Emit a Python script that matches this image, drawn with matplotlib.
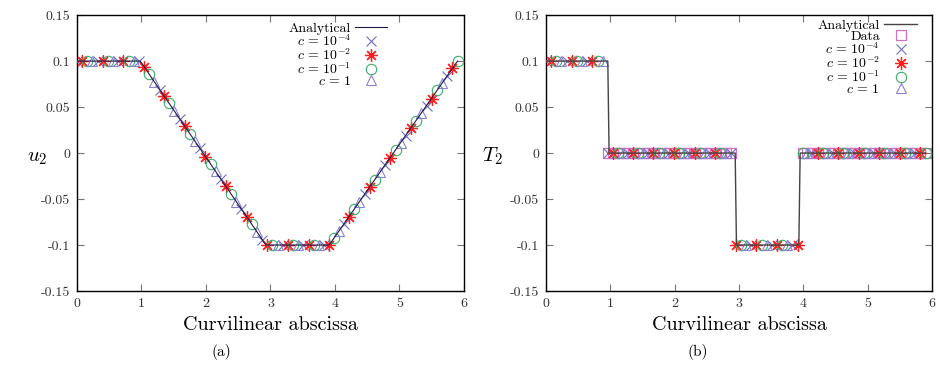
import numpy as np
import matplotlib
matplotlib.use("Agg")
import matplotlib.pyplot as plt
from matplotlib.ticker import MultipleLocator, FuncFormatter

plt.rcParams['font.family'] = 'cmr10'
plt.rcParams['mathtext.fontset'] = 'cm'
plt.rcParams['axes.unicode_minus'] = False

# nodes along the curvilinear abscissa
s_nodes = [0.00, 0.08, 0.16, 0.24, 0.32, 0.40, 0.48, 0.56, 0.64, 0.72,
           0.80, 0.88, 0.96, 1.04, 1.12, 1.20, 1.28, 1.35, 1.43, 1.51,
           1.59, 1.67, 1.75, 1.83, 1.91, 1.99, 2.07, 2.15, 2.23, 2.31,
           2.39, 2.47, 2.55, 2.63, 2.71, 2.79, 2.87, 2.95, 3.03, 3.11,
           3.19, 3.27, 3.35, 3.43, 3.51, 3.59, 3.67, 3.75, 3.83, 3.91,
           3.99, 4.06, 4.14, 4.22, 4.30, 4.38, 4.46, 4.54, 4.62, 4.70,
           4.78, 4.86, 4.94, 5.02, 5.10, 5.18, 5.26, 5.34, 5.42, 5.50,
           5.58, 5.66, 5.74, 5.82, 5.90]

# (a) displacement u2 at nodes
u2_nodes = [0.100, 0.100, 0.100, 0.100, 0.100, 0.100, 0.100, 0.100, 0.100, 0.100,
            0.100, 0.100, 0.100, 0.094, 0.086, 0.077, 0.069, 0.062, 0.054, 0.046,
            0.037, 0.029, 0.021, 0.013, 0.005, -0.004, -0.012, -0.020, -0.028, -0.036,
            -0.045, -0.053, -0.061, -0.069, -0.077, -0.086, -0.094, -0.100, -0.100, -0.100,
            -0.100, -0.100, -0.100, -0.100, -0.100, -0.100, -0.100, -0.100, -0.100, -0.100,
            -0.092, -0.085, -0.077, -0.069, -0.061, -0.053, -0.045, -0.037, -0.029, -0.021,
            -0.013, -0.005, 0.003, 0.011, 0.019, 0.027, 0.035, 0.043, 0.051, 0.059,
            0.068, 0.076, 0.084, 0.092, 0.100]

# (b) T2 at nodes
t2_nodes = [0.1, 0.1, 0.1, 0.1, 0.1, 0.1, 0.1, 0.1, 0.1, 0.1,
            0.1, 0.1, 0.0, 0.0, 0.0, 0.0, 0.0, 0.0, 0.0, 0.0,
            0.0, 0.0, 0.0, 0.0, 0.0, 0.0, 0.0, 0.0, 0.0, 0.0,
            0.0, 0.0, 0.0, 0.0, 0.0, 0.0, 0.0, -0.1, -0.1, -0.1,
            -0.1, -0.1, -0.1, -0.1, -0.1, -0.1, -0.1, -0.1, -0.1, -0.1,
            0.0, 0.0, 0.0, 0.0, 0.0, 0.0, 0.0, 0.0, 0.0, 0.0,
            0.0, 0.0, 0.0, 0.0, 0.0, 0.0, 0.0, 0.0, 0.0, 0.0,
            0.0, 0.0, 0.0, 0.0, 0.0]

# analytical solutions
s_ana_u = [0.0, 0.98, 2.93, 3.91, 5.90]
u_ana = [0.1, 0.1, -0.1, -0.1, 0.1]
s_ana_t = [0.0, 0.96, 0.98, 2.94, 2.96, 3.93, 3.95, 5.90]
t_ana = [0.1, 0.1, 0.0, 0.0, -0.1, -0.1, 0.0, 0.0]

labels = [r'$c\,=\,10^{-4}$', r'$c\,=\,10^{-2}$', r'$c\,=\,10^{-1}$', r'$c\,=\,1$']
styles = [dict(marker='x', ms=7, color='#6f6fc4', mew=0.8),
          dict(marker=(8, 2, 0), ms=9, color='#ff1f1f', mew=0.9),
          dict(marker='o', ms=7.5, color='#3cae6a', mfc='none', mew=0.8),
          dict(marker='^', ms=7, color='#8a82d2', mfc='none', mew=0.8)]

s = np.array(s_nodes)
u2 = np.array(u2_nodes)
t2 = np.array(t2_nodes)

fig = plt.figure(figsize=(9.4, 3.65), dpi=100)
ax1 = fig.add_axes([0.0819, 0.2027, 0.4117, 0.756])
ax2 = fig.add_axes([0.5809, 0.2027, 0.4106, 0.756])

# (a)
ax1.plot(s_ana_u, u_ana, color='#1c1c48', lw=0.8, zorder=4, label='Analytical')
for k in range(4):
    ax1.plot(s[k::4], u2[k::4], ls='none', label=labels[k], zorder=3, **styles[k])

# (b)
ax2.plot(s_ana_t, t_ana, color='#444444', lw=1.0, zorder=4, label='Analytical')
zero = t2 == 0.0
ax2.plot(s[zero], t2[zero], ls='none', marker='s', ms=7, color='#d070c8',
         mfc='none', mew=0.9, zorder=2, label='Data')
for k in range(4):
    ax2.plot(s[k::4], t2[k::4], ls='none', label=labels[k], zorder=3, **styles[k])

fmt = FuncFormatter(lambda v, p: '%g' % round(v, 4))
for ax in (ax1, ax2):
    ax.set_xlim(0, 6)
    ax.set_ylim(-0.15, 0.15)
    ax.xaxis.set_major_locator(MultipleLocator(1))
    ax.yaxis.set_major_locator(MultipleLocator(0.05))
    ax.xaxis.set_major_formatter(fmt)
    ax.yaxis.set_major_formatter(fmt)
    ax.tick_params(direction='in', top=True, right=True, length=5, width=0.8,
                   color='#777777', labelsize=10, labelcolor='#333333', pad=5)
    for sp in ax.spines.values():
        sp.set_linewidth(1.0)
    ax.set_xlabel('Curvilinear abscissa', fontsize=14.5, labelpad=4)

ax1.set_ylabel('$u_2$', fontsize=15, rotation=0)
ax1.yaxis.set_label_coords(-0.103, 0.45)
ax2.set_ylabel('$T_2$', fontsize=15, rotation=0)
ax2.yaxis.set_label_coords(-0.14, 0.45)

ax1.legend(loc='upper right', bbox_to_anchor=(0.82, 1.0), frameon=False,
           markerfirst=False, fontsize=10, labelspacing=-0.12, handlelength=2.3,
           handletextpad=0.3, borderpad=0, numpoints=1)
ax2.legend(loc='upper right', bbox_to_anchor=(0.98, 1.01), frameon=False,
           markerfirst=False, fontsize=10, labelspacing=-0.12, handlelength=2.4,
           handletextpad=0.3, borderpad=0, numpoints=1)

fig.text(0.236, 0.025, '(a)', fontsize=11, ha='center')
fig.text(0.742, 0.025, '(b)', fontsize=11, ha='center')

fig.savefig('out.png', dpi=100)
